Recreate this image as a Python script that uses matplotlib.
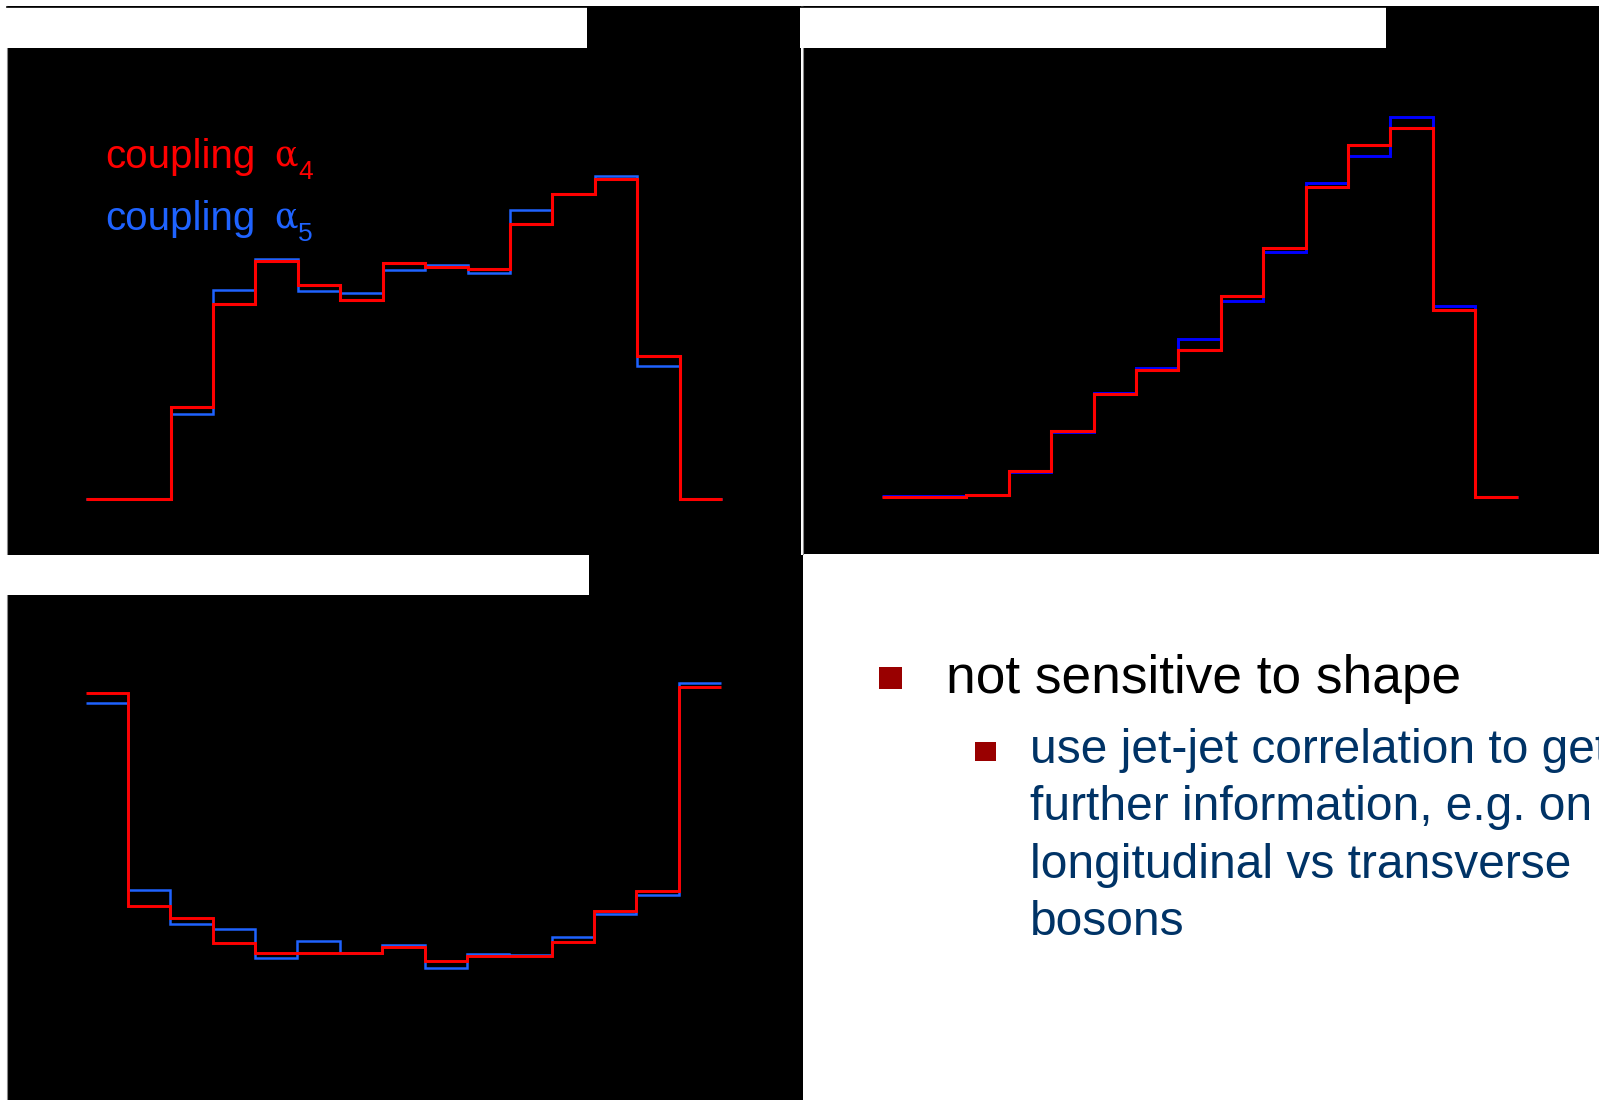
import numpy as np
import matplotlib
matplotlib.use("Agg")
import matplotlib.pyplot as plt
from matplotlib.patches import Rectangle
from matplotlib.lines import Line2D

plt.rcParams['font.family'] = ['Liberation Sans', 'DejaVu Sans']

W, H = 1599, 1100

# 15 equal bins per distribution, entries in arbitrary units
edges = np.arange(16)

# top left distribution
tl_alpha4 = [0, 0, 92, 195, 238, 214, 199, 236, 232, 230, 275, 305, 320, 143, 0]
tl_alpha5 = [0, 0, 85, 209, 240, 208, 206, 229, 234, 226, 289, 305, 323, 133, 0]

# top right distribution
tr_alpha4 = [0, 0, 2, 26, 66, 103, 127, 147, 201, 249, 310, 352, 369, 187, 0]
tr_alpha5 = [1, 1, 2, 25, 65, 104, 129, 158, 196, 245, 314, 341, 380, 191, 0]

# bottom left distribution
bl_alpha4 = [354, 141, 129, 104, 94, 94, 94, 100, 86, 91, 91, 105, 136, 156, 360]
bl_alpha5 = [344, 157, 123, 118, 89, 106, 94, 102, 79, 93, 92, 110, 133, 152, 364]

legend_words = ["coupling", "coupling"]
legend_greek = ["\u03b1", "\u03b1"]
legend_index = ["4", "5"]
bullet_main = "not sensitive to shape"
bullet_sub = ["use jet-jet correlation to get",
              "further information, e.g. on",
              "longitudinal vs transverse",
              "bosons"]

RED = '#ff0000'
LIGHT_BLUE = '#1f63ff'
DEEP_BLUE = '#0000ff'
BULLET = '#990000'
NAVY = '#003366'


def fx(px):
    return px / W


def fy(py):
    return 1 - py / H


def panel(fig, box, first_edge, bin_px, base_px):
    """Black histogram frame; limits set from the frame's pixel geometry."""
    x0, y0, x1, y1 = box
    ax = fig.add_axes([fx(x0), fy(y1), (x1 - x0) / W, (y1 - y0) / H])
    ax.set_facecolor('black')
    ax.set_xlim((x0 - first_edge) / bin_px, (x1 - first_edge) / bin_px)
    ax.set_ylim(-(y1 - base_px), base_px - y0)
    ax.set_xticks([])
    ax.set_yticks([])
    for side in ['top', 'right', 'bottom']:
        ax.spines[side].set_visible(False)
    ax.spines['left'].set_color('#8a8a8a')
    ax.spines['left'].set_linewidth(0.8)
    return ax


fig = plt.figure(figsize=(W / 100, H / 100), dpi=100)
fig.patch.set_facecolor('white')

ax_tl = panel(fig, (7, 6, 800.7, 555), 85.7, 42.43, 499)
ax_tl.stairs(tl_alpha5, edges, baseline=None, color=LIGHT_BLUE, lw=1.8)
ax_tl.stairs(tl_alpha4, edges, baseline=None, color=RED, lw=2.2)

ax_tr = panel(fig, (803, 6, 1599, 554), 881.6, 42.4, 497)
ax_tr.stairs(tr_alpha5, edges, baseline=None, color=DEEP_BLUE, lw=2.1)
ax_tr.stairs(tr_alpha4, edges, baseline=None, color=RED, lw=2.2)

ax_bl = panel(fig, (7, 555, 802.7, 1100), 85.7, 42.35, 1047)
ax_bl.stairs(bl_alpha5, edges, baseline=None, color=LIGHT_BLUE, lw=1.8)
ax_bl.stairs(bl_alpha4, edges, baseline=None, color=RED, lw=2.1)

# blank title strips over the top of each frame
for x0, y0, x1, y1 in [(0, 7, 587, 48), (800, 7, 1386, 48), (0, 555, 589, 595)]:
    fig.add_artist(Rectangle((fx(x0), fy(y1)), (x1 - x0) / W, (y1 - y0) / H,
                             transform=fig.transFigure, facecolor='white',
                             edgecolor='none', zorder=5))

fig.add_artist(Line2D([fx(7), 1], [fy(6.5), fy(6.5)], transform=fig.transFigure,
                      color='black', lw=1.2, zorder=6))

# legend text inside the top-left frame: word, serif greek letter, subscript
for i, col in enumerate([RED, LIGHT_BLUE]):
    base = 168 + 62 * i
    fig.text(fx(105), fy(base), legend_words[i], color=col, fontsize=29,
             va='baseline', ha='left', zorder=7)
    fig.text(fx(274), fy(base - 2), legend_greek[i], color=col, fontsize=25,
             family='DejaVu Serif', va='baseline', ha='left', zorder=7)
    fig.text(fx(298), fy(base + 11), legend_index[i], color=col, fontsize=19,
             va='baseline', ha='left', zorder=7)

# bullet list
fig.add_artist(Rectangle((fx(879), fy(689)), 23 / W, 22 / H, transform=fig.transFigure,
                         facecolor=BULLET, edgecolor='none', zorder=6))
fig.text(fx(946), fy(693), bullet_main, color='black', fontsize=38.3,
         va='baseline', ha='left', zorder=7)

fig.add_artist(Rectangle((fx(975), fy(761)), 21 / W, 19 / H, transform=fig.transFigure,
                         facecolor=BULLET, edgecolor='none', zorder=6))
for i, line in enumerate(bullet_sub):
    fig.text(fx(1030), fy(763 + 57.3 * i), line, color=NAVY, fontsize=34.5,
             va='baseline', ha='left', zorder=7)

fig.savefig("out.png", dpi=100, facecolor='white')
